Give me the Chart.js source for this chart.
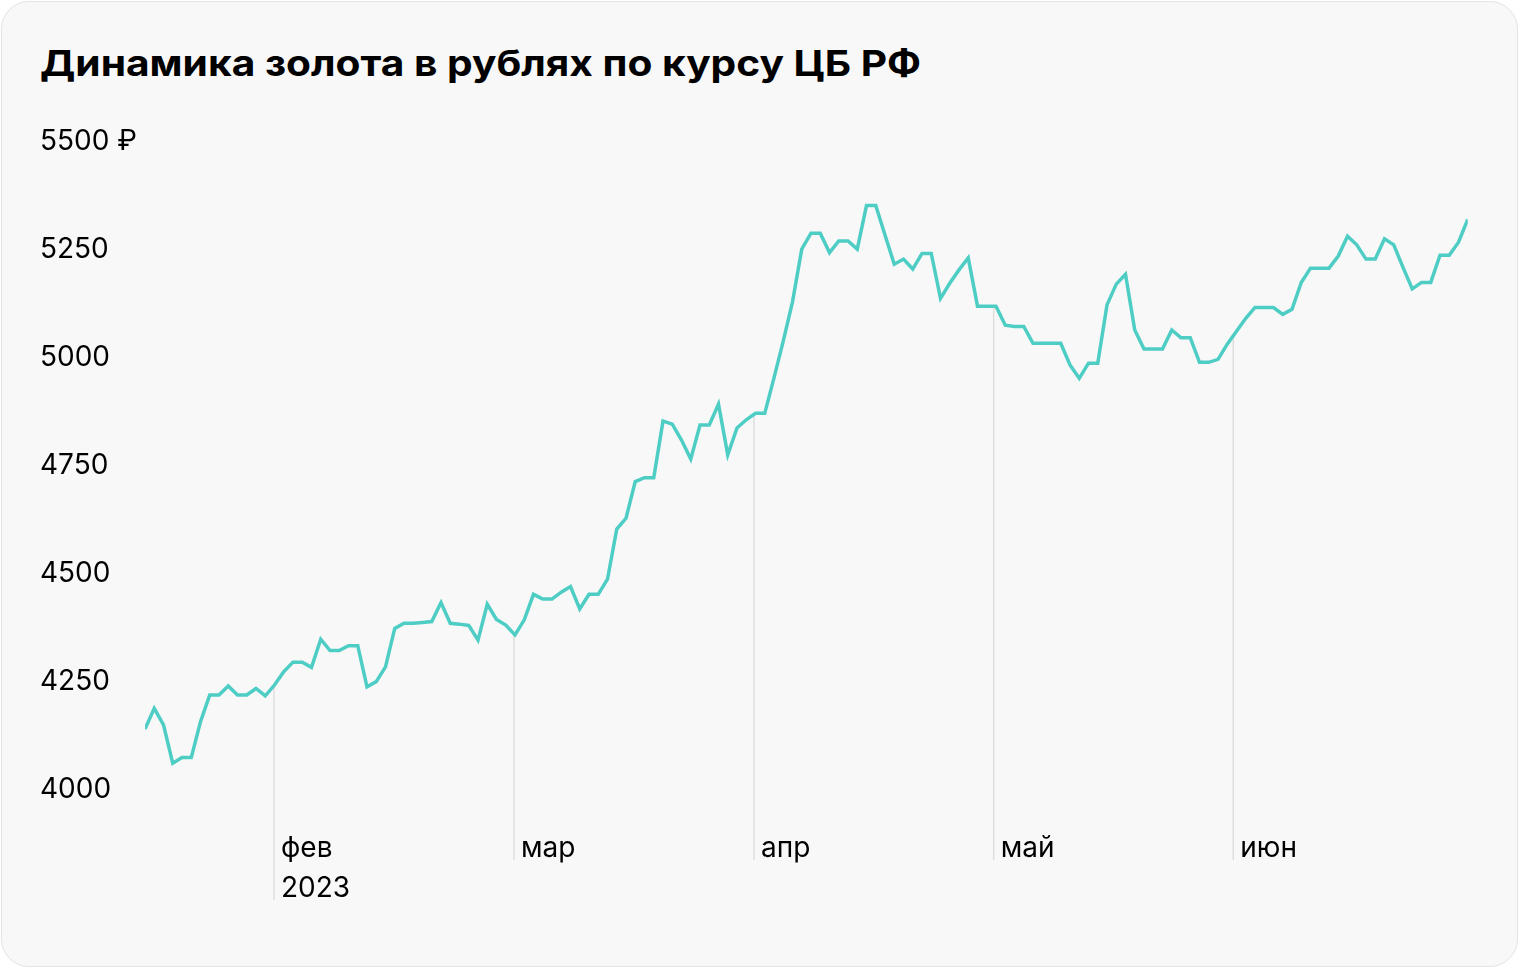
<!DOCTYPE html>
<html><head><meta charset="utf-8">
<script src="https://cdn.jsdelivr.net/npm/chart.js@4"></script>
<style>
html,body{margin:0;padding:0;background:#fff;width:1520px;height:968px;overflow:hidden;}
#card{position:absolute;left:1px;top:1px;width:1517px;height:966px;background:#f8f8f8;border:1.5px solid #e4e4e4;border-radius:28px;box-sizing:border-box;}
#title{position:absolute;left:40px;top:45px;font:700 36px Inter, Roboto, sans-serif;color:#000;margin:0;line-height:1;white-space:nowrap;transform:scaleX(1.13);transform-origin:0 0;}
#wrap{position:absolute;left:0;top:0;width:1520px;height:968px;}
</style></head>
<body>
<div id="card"></div>
<h1 id="title">Динамика золота в рублях по курсу ЦБ РФ</h1>
<div id="wrap"><canvas id="c" width="1520" height="968"></canvas></div>
<script>
// Gold price in rubles (CB RF), one value per published day, mid-Jan .. end of Jun 2023
const goldRub = [
 4134,4182,4144,4055,4068,4068,4151,4213,4213,4234,
 4213,4213,4228,4211,4236,4267,4289,4289,4277,4342,
 4316,4316,4327,4327,4232,4244,4278,4367,4379,4379,
 4381,4383,4427,4379,4377,4374,4340,4423,4388,4375,
 4352,4387,4446,4435,4435,4451,4464,4412,4446,4446,
 4481,4597,4622,4707,4716,4716,4847,4840,4803,4759,
 4838,4838,4886,4769,4831,4850,4865,4865,4947,5032,
 5123,5245,5282,5282,5237,5264,5264,5245,5346,5346,
 5278,5210,5222,5199,5235,5235,5131,5166,5197,5225,
 5113,5113,5113,5069,5066,5066,5027,5027,5027,5027,
 4977,4946,4981,4981,5116,5164,5187,5058,5014,5014,
 5014,5058,5040,5040,4983,4983,4990,5025,5055,5085,
 5110,5110,5110,5094,5106,5168,5201,5201,5201,5229,
 5275,5255,5222,5222,5269,5255,5203,5153,5168,5168,
 5231,5231,5261,5314
];
// Month starts, expressed as (fractional) positions in the series
const monthTickPos = [13.95, 39.89, 65.84, 91.75, 117.65];
const monthLabels = ['фев', 'мар', 'апр', 'май', 'июн'];
const yearLabel = '2023';
const yTicks = [4000, 4250, 4500, 4750, 5000, 5250, 5500];
const currency = '₽';

const FONT = 'Inter, Roboto, sans-serif';
const LINE_H = 40;
const X_PAD = 42;

const dropLines = {
  id: 'dropLines',
  beforeDatasetsDraw(chart) {
    const {ctx, scales: {x, y}} = chart;
    ctx.save();
    ctx.strokeStyle = '#dedede';
    ctx.lineWidth = 1.5;
    monthTickPos.forEach((p, k) => {
      const i = Math.floor(p), t = p - i;
      const v = goldRub[i] + t * (goldRub[i + 1] - goldRub[i]);
      const px = x.getPixelForValue(p);
      const py = y.getPixelForValue(v);
      const lines = k === 0 ? 2 : 1;
      const bottom = x.top + X_PAD + lines * LINE_H - 9;
      ctx.beginPath();
      ctx.moveTo(px, py);
      ctx.lineTo(px, bottom);
      ctx.stroke();
    });
    ctx.restore();
  }
};

new Chart(document.getElementById('c'), {
  type: 'line',
  data: {
    datasets: [{
      data: goldRub.map((v, i) => ({x: i, y: v})),
      borderColor: '#4ecdc4',
      borderWidth: 3.5,
      pointRadius: 0,
      tension: 0,
      fill: false
    }]
  },
  options: {
    responsive: false,
    animation: false,
    layout: {padding: {left: 40, top: 139, right: 52.25, bottom: 0}},
    plugins: {legend: {display: false}, tooltip: {enabled: false}},
    scales: {
      x: {
        type: 'linear',
        bounds: 'data',
        min: 0,
        max: goldRub.length - 1,
        grid: {display: false, drawTicks: false},
        border: {display: false},
        afterBuildTicks: (s) => { s.ticks = monthTickPos.map(v => ({value: v})); },
        afterFit: (s) => { s.height = 181; },
        ticks: {
          autoSkip: false,
          maxRotation: 0,
          align: 'start',
          labelOffset: 7,
          padding: X_PAD,
          color: '#000',
          font: {family: FONT, size: 28, lineHeight: LINE_H + 'px'},
          callback: (v, idx) => idx === 0 ? [monthLabels[0], yearLabel] : monthLabels[idx]
        }
      },
      y: {
        min: yTicks[0],
        max: yTicks[yTicks.length - 1],
        grid: {display: false, drawTicks: false},
        border: {display: false},
        afterBuildTicks: (s) => { s.ticks = yTicks.map(v => ({value: v})); },
        afterFit: (s) => { s.width = 105; },
        ticks: {
          crossAlign: 'far',
          padding: 0,
          labelOffset: 3,
          color: '#000',
          font: {family: FONT, size: 28},
          callback: (v) => v === yTicks[yTicks.length - 1] ? v + ' ' + currency : String(v)
        }
      }
    }
  },
  plugins: [dropLines]
});
</script>
</body></html>
